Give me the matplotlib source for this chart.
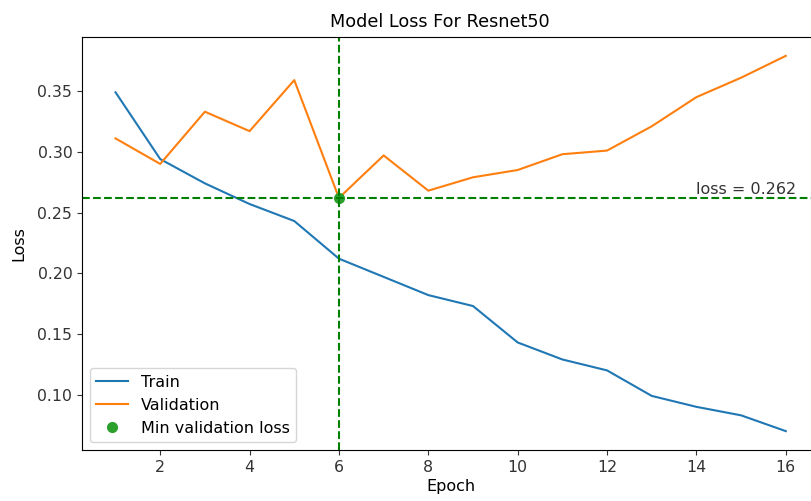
import matplotlib
matplotlib.use("Agg")
import matplotlib.pyplot as plt

epochs = list(range(1, 17))
train_loss = [0.349, 0.294, 0.274, 0.257, 0.243, 0.212, 0.197, 0.182, 0.173, 0.143,
              0.129, 0.120, 0.099, 0.090, 0.083, 0.070]
val_loss = [0.311, 0.290, 0.333, 0.317, 0.359, 0.262, 0.297, 0.268, 0.279, 0.285,
            0.298, 0.301, 0.321, 0.345, 0.361, 0.379]

best_epoch = epochs[val_loss.index(min(val_loss))]
best_loss = min(val_loss)

fig = plt.figure(figsize=(8.12, 5.01), dpi=100)
ax = fig.add_axes([0.101, 0.102, 0.908, 0.824])

ax.plot(epochs, train_loss, label="Train")
ax.plot(epochs, val_loss, label="Validation")
ax.plot(best_epoch, best_loss, "o", color="tab:green", markersize=7, label="Min validation loss")
ax.axhline(best_loss, color="g", linestyle="--")
ax.axvline(best_epoch, color="g", linestyle="--")
ax.text(14, best_loss + 0.003, "loss = %.3f" % best_loss, fontsize=11.5, color="#333333")

ax.set_xticks([2, 4, 6, 8, 10, 12, 14, 16])
ax.tick_params(labelsize=11.3, colors="#333333")
ax.set_title("Model Loss For Resnet50", fontsize=12.7, pad=7, x=0.485)
ax.set_xlabel("Epoch", fontsize=11.5, labelpad=3)
ax.set_ylabel("Loss", fontsize=11.5, labelpad=8)
ax.legend(loc="lower left", fontsize=11.5)

fig.savefig("out.png")
